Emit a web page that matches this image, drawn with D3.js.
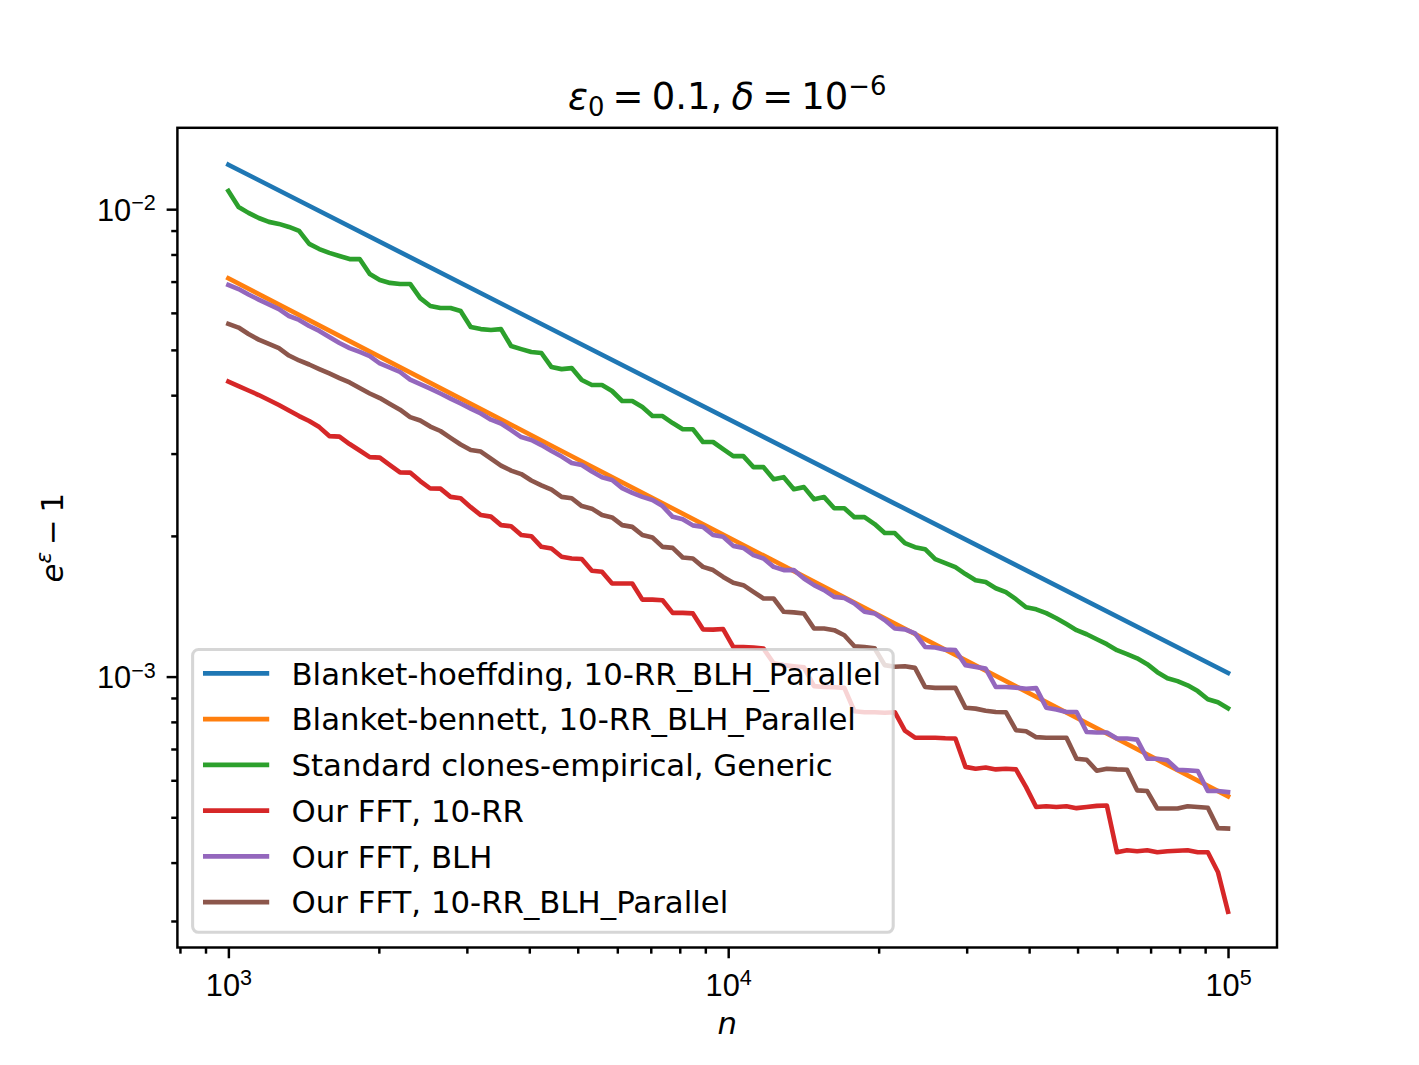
<!DOCTYPE html>
<html>
<head>
<meta charset="utf-8">
<script src="https://cdn.jsdelivr.net/npm/d3@7"></script>
<style>
  html, body { margin: 0; padding: 0; background: #ffffff; }
  svg { display: block; font-family: "DejaVu Sans", sans-serif; }
</style>
</head>
<body>
<svg id="chart" width="1419" height="1065"></svg>
<script>
// ---------------- data ----------------
const nGrid = [1000,1048,1097,1150,1205,1262,1322,1385,1451,1520,
  1592,1668,1748,1831,1918,2009,2105,2205,2310,2420,
  2535,2656,2783,2915,3054,3199,3352,3511,3678,3854,
  4037,4229,4431,4642,4863,5094,5337,5591,5857,6136,
  6428,6734,7055,7391,7743,8111,8498,8902,9326,9770,
  10235,10723,11233,11768,12328,12915,13530,14175,14850,15557,
  16298,17074,17886,18738,19630,20565,21544,22570,23645,24771,
  25950,27186,28480,29836,31257,32745,34305,35938,37649,39442,
  41320,43288,45349,47508,49770,52140,54623,57224,59948,62802,
  65793,68926,72208,75646,79248,83022,86975,91116,95455,100000];

const nLine = [1000, 4642, 21544, 100000];

const blanketHoeffding = [0.01245, 0.005400, 0.002345, 0.001018];
const blanketBennett   = [0.007112, 0.003039, 0.001299, 0.0005544];

const standardClones = [0.01094,0.01011,0.009819,0.009575,0.009393,0.009300,0.009161,0.008986,0.008427,0.008217,
  0.008062,0.007942,0.007821,0.007821,0.007269,0.007057,0.006954,0.006919,0.006919,0.006454,
  0.006207,0.006144,0.006144,0.006057,0.005596,0.005539,0.005516,0.005539,0.005096,0.005019,
  0.004949,0.004924,0.004594,0.004548,0.004571,0.004311,0.004205,0.004205,0.004083,0.003887,
  0.003887,0.003772,0.003609,0.003609,0.003487,0.003383,0.003383,0.003176,0.003176,0.003066,
  0.002963,0.002963,0.002806,0.002806,0.002644,0.002671,0.002517,0.002543,0.002396,0.002421,
  0.002292,0.002292,0.002193,0.002193,0.002120,0.002028,0.002028,0.001930,0.001892,0.001873,
  0.001783,0.001749,0.001714,0.001657,0.001608,0.001593,0.001545,0.001516,0.001464,0.001407,
  0.001393,0.001367,0.001333,0.001295,0.001257,0.001232,0.001202,0.001173,0.001139,0.001117,
  0.001094,0.001063,0.001022,0.000992,0.000978,0.000958,0.000931,0.000894,0.000881,0.000855];

const fft10RR = [0.004279,0.004184,0.004093,0.004003,0.003906,0.003810,0.003709,0.003609,0.003522,0.003418,
  0.003270,0.003262,0.003144,0.003045,0.002948,0.002941,0.002835,0.002735,0.002732,0.002620,
  0.002526,0.002524,0.002424,0.002408,0.002304,0.002216,0.002199,0.002109,0.002098,0.002008,
  0.001997,0.001895,0.001879,0.001804,0.001789,0.001785,0.001684,0.001676,0.001582,0.001582,
  0.001582,0.001461,0.001461,0.001457,0.001369,0.001369,0.001365,0.001262,0.001260,0.001264,
  0.001157,0.001157,0.001154,0.001148,0.001068,0.001058,0.001052,0.001047,0.000954,0.000950,
  0.000949,0.000946,0.000843,0.000839,0.000839,0.000837,0.000839,0.000766,0.000740,0.000740,
  0.000740,0.000738,0.000737,0.000641,0.000635,0.000639,0.000633,0.000635,0.000633,0.000580,
  0.000526,0.000528,0.000526,0.000528,0.000523,0.000526,0.000529,0.000530,0.000421,0.000425,
  0.000423,0.000425,0.000421,0.000423,0.000424,0.000425,0.000421,0.000421,0.000382,0.000314];

const fftBLH = [0.006884,0.006746,0.006570,0.006405,0.006254,0.006113,0.005908,0.005794,0.005624,0.005489,
  0.005327,0.005173,0.005045,0.004949,0.004851,0.004676,0.004583,0.004484,0.004318,0.004226,
  0.004131,0.004033,0.003933,0.003839,0.003744,0.003655,0.003545,0.003479,0.003369,0.003254,
  0.003207,0.003128,0.003038,0.002956,0.002863,0.002835,0.002746,0.002671,0.002633,0.002530,
  0.002473,0.002424,0.002386,0.002316,0.002197,0.002171,0.002106,0.002091,0.002008,0.001991,
  0.001904,0.001885,0.001819,0.001789,0.001717,0.001690,0.001690,0.001621,0.001569,0.001531,
  0.001481,0.001473,0.001434,0.001376,0.001365,0.001321,0.001267,0.001262,0.001237,0.001157,
  0.001154,0.001142,0.001139,0.001058,0.001049,0.001040,0.000950,0.000950,0.000947,0.000942,
  0.000945,0.000858,0.000850,0.000840,0.000840,0.000761,0.000759,0.000759,0.000737,0.000737,
  0.000733,0.000667,0.000667,0.000662,0.000632,0.000630,0.000628,0.000569,0.000569,0.000566];

const fftParallel = [0.005681,0.005581,0.005408,0.005259,0.005148,0.005045,0.004863,0.004746,0.004653,0.004548,
  0.004451,0.004351,0.004258,0.004142,0.004033,0.003943,0.003830,0.003724,0.003591,0.003531,
  0.003427,0.003353,0.003242,0.003137,0.003053,0.003030,0.002926,0.002828,0.002759,0.002712,
  0.002627,0.002565,0.002511,0.002424,0.002408,0.002316,0.002287,0.002216,0.002190,0.002109,
  0.002091,0.002008,0.001984,0.001895,0.001885,0.001798,0.001789,0.001717,0.001690,0.001634,
  0.001587,0.001569,0.001518,0.001469,0.001469,0.001376,0.001372,0.001365,0.001267,0.001267,
  0.001257,0.001226,0.001161,0.001157,0.001150,0.001058,0.001050,0.001052,0.001044,0.000950,
  0.000946,0.000946,0.000946,0.000858,0.000854,0.000845,0.000840,0.000839,0.000768,0.000764,
  0.000742,0.000740,0.000740,0.000740,0.000667,0.000664,0.000629,0.000635,0.000633,0.000632,
  0.000571,0.000569,0.000522,0.000522,0.000522,0.000528,0.000526,0.000524,0.000474,0.000473];

const seriesLabels = [
  "Blanket-hoeffding, 10-RR_BLH_Parallel",
  "Blanket-bennett, 10-RR_BLH_Parallel",
  "Standard clones-empirical, Generic",
  "Our FFT, 10-RR",
  "Our FFT, BLH",
  "Our FFT, 10-RR_BLH_Parallel"
];
const seriesColors = ["#1f77b4", "#ff7f0e", "#2ca02c", "#d62728", "#9467bd", "#8c564b"];

const xMajorTicks = [1e3, 1e4, 1e5];
const xTickExps = ["3", "4", "5"];
const yMajorTicks = [1e-2, 1e-3];
const yTickExps = ["\u22122", "\u22123"];
const xDomain = [Math.pow(10, 2.898), Math.pow(10, 5.098)];
const yDomain = [Math.pow(10, -3.5796), Math.pow(10, -1.8259)];

// ---------------- layout ----------------
const PT = 221.7 / 72;             // px per point
const FS = 10 * PT;                // 10pt font
const SUP = 0.7 * FS;
const L = 177.4, R = 1277, T = 127.8, B = 947.5;
const svg = d3.select("#chart");
svg.append("rect").attr("width", 1419).attr("height", 1065).attr("fill", "#ffffff");

const x = d3.scaleLog().domain(xDomain).range([L, R]);
const y = d3.scaleLog().domain(yDomain).range([B, T]);

function minorTicks(dom) {
  const out = [];
  const lo = Math.floor(Math.log10(dom[0])), hi = Math.ceil(Math.log10(dom[1]));
  for (let e = lo; e <= hi; e++) {
    for (let m = 2; m <= 9; m++) {
      const v = m * Math.pow(10, e);
      if (v >= dom[0] && v <= dom[1]) out.push(v);
    }
  }
  return out;
}
const xMinor = minorTicks(xDomain);
const yMinor = minorTicks(yDomain);

const majorLen = 3.5 * PT, minorLen = 2 * PT, tickW = 0.8 * PT;

const gxMinor = svg.append("g").attr("transform", `translate(0,${B})`)
  .call(d3.axisBottom(x).tickValues(xMinor).tickSize(minorLen).tickFormat(""));
const gx = svg.append("g").attr("transform", `translate(0,${B})`)
  .call(d3.axisBottom(x).tickValues(xMajorTicks).tickSize(majorLen).tickFormat(""));
const gyMinor = svg.append("g").attr("transform", `translate(${L},0)`)
  .call(d3.axisLeft(y).tickValues(yMinor).tickSize(minorLen).tickFormat(""));
const gy = svg.append("g").attr("transform", `translate(${L},0)`)
  .call(d3.axisLeft(y).tickValues(yMajorTicks).tickSize(majorLen).tickFormat(""));

[gxMinor, gx, gyMinor, gy].forEach(g => {
  g.select(".domain").remove();
  g.selectAll(".tick line").attr("stroke", "#000").attr("stroke-width", tickW);
  g.selectAll(".tick text").remove();
});

gx.selectAll(".tick").each(function(d, i) {
  const t = d3.select(this).append("text")
    .attr("x", 0).attr("y", 48)
    .attr("text-anchor", "middle")
    .attr("fill", "#000")
    .attr("font-size", FS);
  t.append("tspan").text("10");
  t.append("tspan").attr("dy", -10.5).attr("font-size", SUP).text(xTickExps[i]);
});
gy.selectAll(".tick").each(function(d, i) {
  const t = d3.select(this).append("text")
    .attr("x", -21.6).attr("y", 11)
    .attr("text-anchor", "end")
    .attr("fill", "#000")
    .attr("font-size", FS);
  t.append("tspan").text("10");
  t.append("tspan").attr("dy", -10.5).attr("font-size", SUP).text(yTickExps[i]);
});

// ---------------- lines ----------------
const line = d3.line().x(d => x(d[0])).y(d => y(d[1]));
const seriesData = [
  d3.zip(nLine, blanketHoeffding),
  d3.zip(nLine, blanketBennett),
  d3.zip(nGrid, standardClones),
  d3.zip(nGrid, fft10RR),
  d3.zip(nGrid, fftBLH),
  d3.zip(nGrid, fftParallel)
];
const gLines = svg.append("g");
seriesData.forEach((s, i) => {
  gLines.append("path")
    .datum(s)
    .attr("d", line)
    .attr("fill", "none")
    .attr("stroke", seriesColors[i])
    .attr("stroke-width", 1.5 * PT)
    .attr("stroke-linejoin", "round")
    .attr("stroke-linecap", "square");
});

svg.append("rect")
  .attr("x", L).attr("y", T).attr("width", R - L).attr("height", B - T)
  .attr("fill", "none").attr("stroke", "#000").attr("stroke-width", 0.8 * PT);

// ---------------- legend ----------------
const lg = svg.append("g");
lg.append("rect")
  .attr("x", 192.6).attr("y", 649.5).attr("width", 700.6).attr("height", 282.8)
  .attr("rx", 6).attr("ry", 6)
  .attr("fill", "rgba(255,255,255,0.8)")
  .attr("stroke", "rgba(204,204,204,0.8)")
  .attr("stroke-width", 1.0 * PT);
const legendY0 = 673.4, legendStep = 45.75;
seriesLabels.forEach((lab, i) => {
  const yy = legendY0 + i * legendStep;
  lg.append("line")
    .attr("x1", 205.3).attr("x2", 266.9).attr("y1", yy).attr("y2", yy)
    .attr("stroke", seriesColors[i]).attr("stroke-width", 1.5 * PT)
    .attr("stroke-linecap", "square");
  lg.append("text")
    .attr("x", 291.5).attr("y", yy + 11.3)
    .attr("font-size", FS).attr("fill", "#000")
    .text(lab);
});

// ---------------- titles ----------------
const TS = 12 * PT;
const rel = 0.22 * TS;
const title = svg.append("text")
  .attr("x", (L + R) / 2).attr("y", 109)
  .attr("text-anchor", "middle")
  .attr("font-size", TS).attr("fill", "#000");
title.append("tspan").attr("font-style", "italic").text("ε");
title.append("tspan").attr("font-size", 0.7 * TS).attr("dy", 7.4).text("0");
title.append("tspan").attr("dy", -7.4).attr("dx", rel).text("=");
title.append("tspan").attr("dx", rel).text("0.1,");
title.append("tspan").attr("dx", 0.25 * TS).attr("font-style", "italic").text("δ");
title.append("tspan").attr("dx", rel).text("=");
title.append("tspan").attr("dx", rel).text("10");
title.append("tspan").attr("font-size", 0.7 * TS).attr("dy", -14).text("\u22126");

svg.append("text")
  .attr("x", (L + R) / 2).attr("y", 1034)
  .attr("text-anchor", "middle")
  .attr("font-size", FS).attr("font-style", "italic").attr("fill", "#000")
  .text("n");

const yl = svg.append("text")
  .attr("transform", `translate(63,${(T + B) / 2}) rotate(-90)`)
  .attr("text-anchor", "middle")
  .attr("font-size", FS).attr("fill", "#000");
yl.append("tspan").attr("font-style", "italic").text("e");
yl.append("tspan").attr("font-style", "italic").attr("font-size", SUP).attr("dy", -12).text("ε");
yl.append("tspan").attr("dy", 12).attr("dx", 0.222 * FS).text("\u2212");
yl.append("tspan").attr("dx", 0.222 * FS).text("1");
</script>
</body>
</html>
